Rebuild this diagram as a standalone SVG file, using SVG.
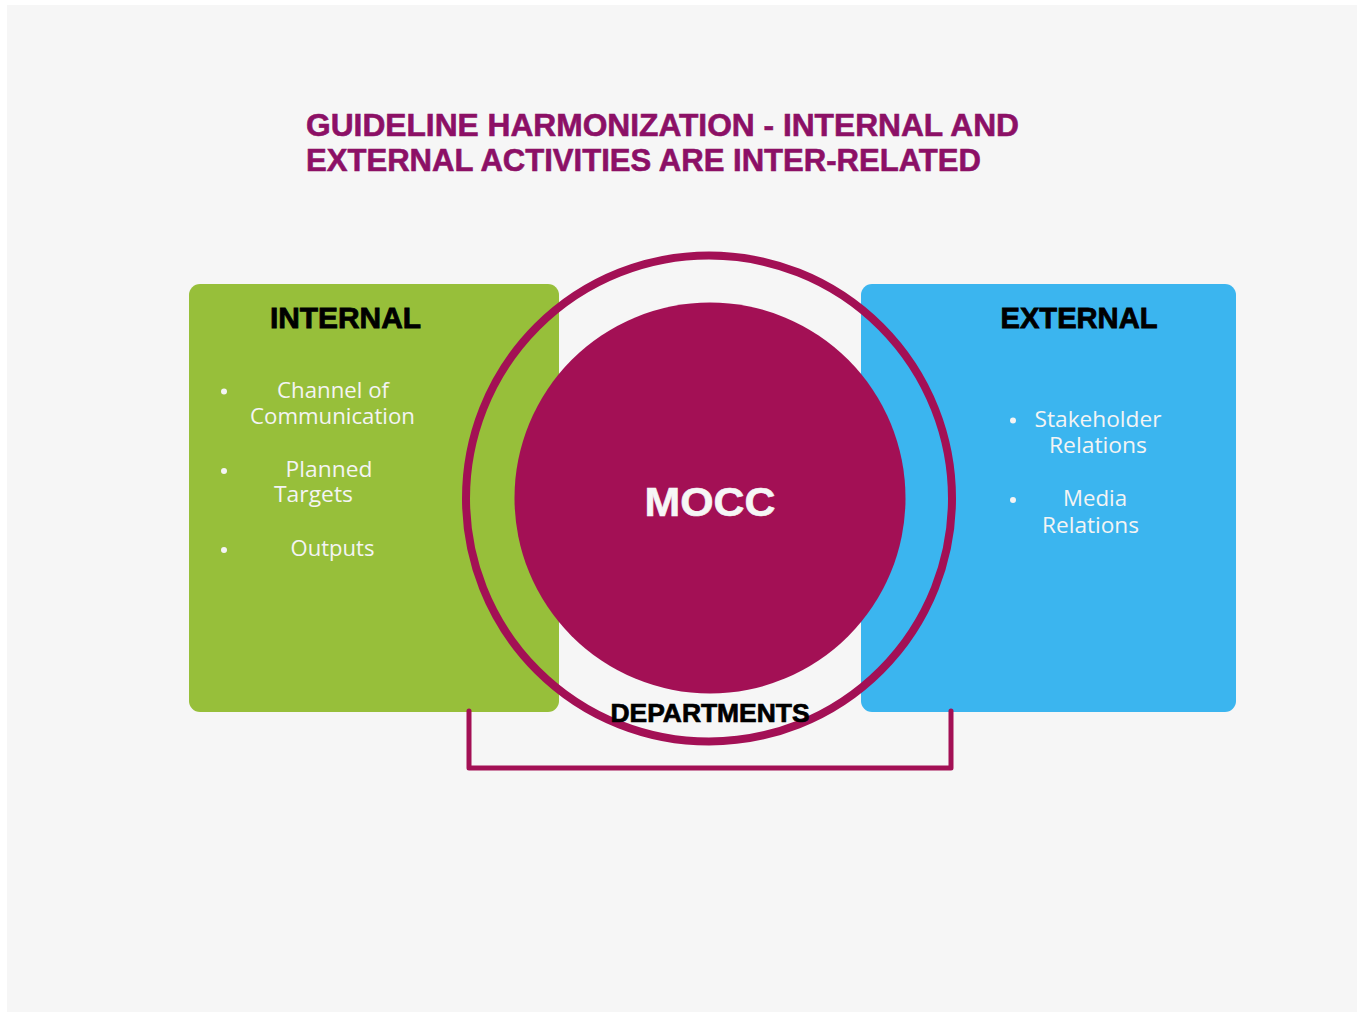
<svg xmlns="http://www.w3.org/2000/svg" width="1364" height="1012" viewBox="0 0 1364 1012">
  <style>
    .title { font-family: "Liberation Sans", Arial, sans-serif; font-weight: bold; font-size: 32px; fill: #8c1066; stroke: #8c1066; stroke-width: 0.6; }
    .head { font-family: "Liberation Sans", Arial, sans-serif; font-weight: bold; font-size: 29px; fill: #000000; stroke: #000000; stroke-width: 0.8; text-anchor: middle; }
    .item { font-family: "Open Sans", "Noto Sans", sans-serif; font-size: 21px; fill: #f4f4f4; text-anchor: middle; }
    .dot { fill: #f4f4f4; }
    .wire { fill: none; stroke: #a31055; stroke-width: 5; stroke-linejoin: round; stroke-linecap: round; }
  </style>

  <!-- page -->
  <rect x="0" y="0" width="1364" height="1012" fill="#ffffff"/>
  <rect x="7" y="5" width="1350" height="1007" fill="#f6f6f6"/>

  <!-- heading -->
  <g id="title">
    <text class="title" x="306" y="136" textLength="713" lengthAdjust="spacingAndGlyphs">GUIDELINE HARMONIZATION - INTERNAL AND</text>
    <text class="title" x="306" y="171" textLength="675" lengthAdjust="spacingAndGlyphs">EXTERNAL ACTIVITIES ARE INTER-RELATED</text>
  </g>

  <!-- left panel -->
  <g id="internal">
    <rect x="189" y="284" width="370" height="428" rx="11" fill="#97bf3a"/>
    <text class="head" x="345.5" y="328" textLength="151" lengthAdjust="spacingAndGlyphs">INTERNAL</text>
    <circle class="dot" cx="224" cy="391.5" r="3"/>
    <text class="item" x="333" y="398" textLength="112" lengthAdjust="spacingAndGlyphs">Channel of</text>
    <text class="item" x="332.5" y="424" textLength="165" lengthAdjust="spacingAndGlyphs">Communication</text>
    <circle class="dot" cx="224" cy="471" r="3"/>
    <text class="item" x="329" y="477" textLength="87" lengthAdjust="spacingAndGlyphs">Planned</text>
    <text class="item" x="313.5" y="502" textLength="79" lengthAdjust="spacingAndGlyphs">Targets</text>
    <circle class="dot" cx="224" cy="550" r="3"/>
    <text class="item" x="332.5" y="556" textLength="84" lengthAdjust="spacingAndGlyphs">Outputs</text>
  </g>

  <!-- right panel -->
  <g id="external">
    <rect x="861" y="284" width="375" height="428" rx="11" fill="#3bb5ef"/>
    <text class="head" x="1079" y="328" textLength="157" lengthAdjust="spacingAndGlyphs">EXTERNAL</text>
    <circle class="dot" cx="1013" cy="420.5" r="3"/>
    <text class="item" x="1098" y="427" textLength="127" lengthAdjust="spacingAndGlyphs">Stakeholder</text>
    <text class="item" x="1098" y="453" textLength="98" lengthAdjust="spacingAndGlyphs">Relations</text>
    <circle class="dot" cx="1013" cy="500" r="3"/>
    <text class="item" x="1095" y="506" textLength="64" lengthAdjust="spacingAndGlyphs">Media</text>
    <text class="item" x="1090.5" y="532.5" textLength="97" lengthAdjust="spacingAndGlyphs">Relations</text>
  </g>

  <!-- bracket joining the two panels -->
  <g id="connectors">
    <path class="wire" d="M469 711 V768 H951 V711"/>
  </g>

  <!-- centre hub -->
  <g id="mocc">
    <circle cx="709" cy="498.5" r="243" fill="none" stroke="#a31055" stroke-width="8"/>
    <circle cx="710" cy="498" r="195.5" fill="#a31055"/>
    <text x="710" y="516" text-anchor="middle" font-family="'Liberation Sans', Arial, sans-serif" font-weight="bold" font-size="41" fill="#f6f6f6" stroke="#f6f6f6" stroke-width="0.6" textLength="131" lengthAdjust="spacingAndGlyphs">MOCC</text>
  </g>

  <g id="departments">
    <text x="710" y="722" text-anchor="middle" font-family="'Liberation Sans', Arial, sans-serif" font-weight="bold" font-size="26" fill="#000000" stroke="#000000" stroke-width="0.7" textLength="199" lengthAdjust="spacingAndGlyphs">DEPARTMENTS</text>
  </g>
</svg>
